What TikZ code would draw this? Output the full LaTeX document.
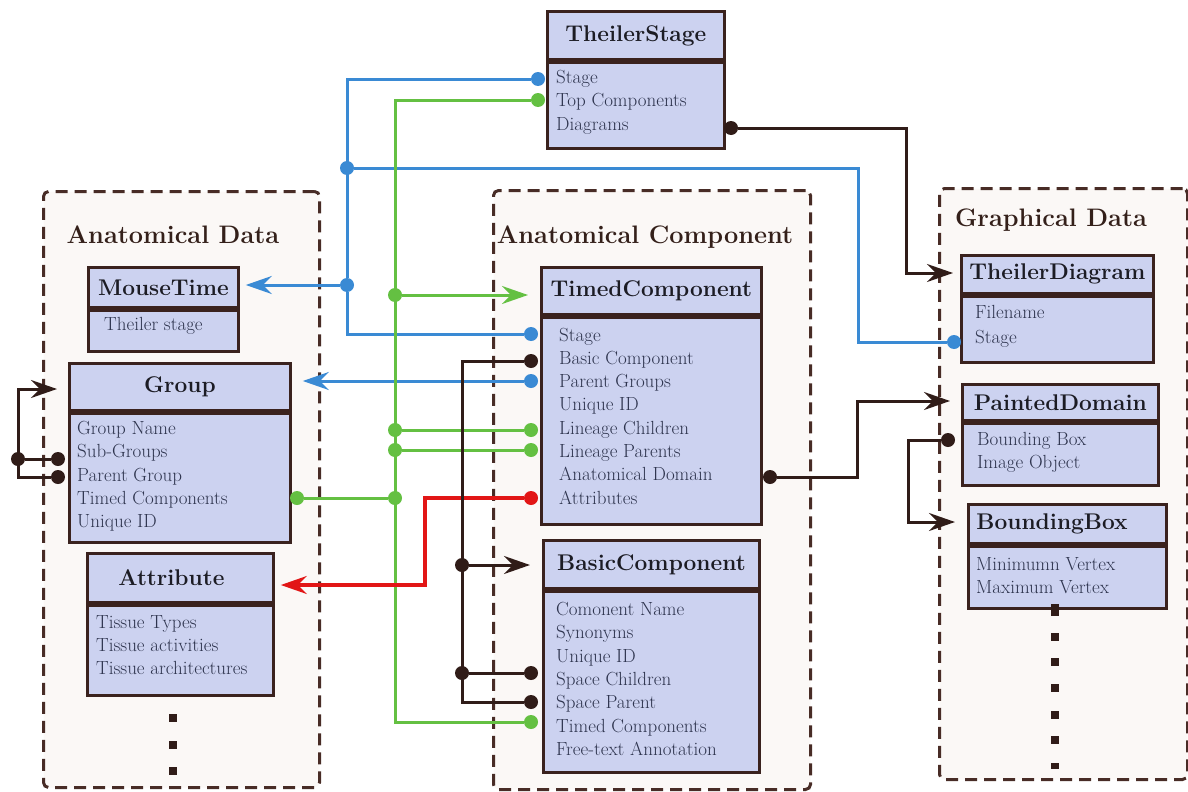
\documentclass[tikz,border=0pt]{standalone}
\usetikzlibrary{arrows.meta}

\definecolor{classfill}{RGB}{204,210,240}
\definecolor{classline}{RGB}{58,34,30}
\definecolor{pkgfill}{RGB}{251,248,246}
\definecolor{pkgline}{RGB}{72,44,38}
\definecolor{titletext}{RGB}{52,32,26}
\definecolor{headtext}{RGB}{28,28,36}
\definecolor{itemtext}{RGB}{46,52,78}
\definecolor{linkblue}{RGB}{58,138,212}
\definecolor{linkgreen}{RGB}{100,192,66}
\definecolor{linkred}{RGB}{226,22,22}
\definecolor{linkdark}{RGB}{48,28,24}

\tikzset{
  pkg/.style={draw=pkgline, fill=pkgfill, line width=3pt, dash pattern=on 12pt off 7pt, rounded corners=5pt, anchor=north west, inner sep=0pt},
  pkgtitle/.style={text=titletext, font=\fontsize{25.3}{29}\selectfont\bfseries},
  classhead/.style={draw=classline, fill=classfill, line width=2.8pt, anchor=north west, inner sep=0pt, text=headtext, font=\fontsize{22.7}{26}\selectfont\bfseries},
  classbody/.style={draw=classline, fill=classfill, line width=2.8pt, anchor=north west, inner sep=0pt},
  items/.style={anchor=west, align=left, inner sep=0pt, text=itemtext, font=\fontsize{19}{23.3}\selectfont},
  pdot/.style={circle, fill=#1, inner sep=0pt, minimum size=14pt},
  blueline/.style={draw=linkblue, line width=3pt},
  greenline/.style={draw=linkgreen, line width=3pt},
  redline/.style={draw=linkred, line width=3.4pt},
  darkline/.style={draw=linkdark, line width=3pt},
  headarrow/.style={-{Stealth[length=26pt,width=18pt,inset=9pt]}},
}

\begin{document}
\begin{tikzpicture}[x=1pt,y=-1pt]
\useasboundingbox (0,0) rectangle (1188,792);

% packages
\node[pkg, minimum width=276pt, minimum height=596pt] (adata) at (42,190) {};
\node[pkg, minimum width=317pt, minimum height=599pt] (acomp) at (492,189) {};
\node[pkg, minimum width=248pt, minimum height=591pt] (gdata) at (938,187) {};
\node[pkgtitle] (adata-title) at (173,235) {Anatomical Data};
\node[pkgtitle] (acomp-title) at (645,237) {Anatomical Component};
\node[pkgtitle] (gdata-title) at (1051,220) {Graphical Data};

% TheilerStage
\node[classhead, minimum width=177pt, minimum height=48pt] (ts-head) at (546,10) {TheilerStage};
\node[classbody, minimum width=177pt, minimum height=86pt] (ts-body) at (ts-head.south west) {};
\node[items] (ts-attr) at (556,102) {Stage\\Top Components\\Diagrams};

% Anatomical Data
\node[classhead, minimum width=150pt, minimum height=40pt] (mt-head) at (87,266) {MouseTime};
\node[classbody, minimum width=150pt, minimum height=41pt] (mt-body) at (mt-head.south west) {};
\node[items] (mt-attr) at (104,326) {Theiler stage};

\node[classhead, minimum width=221pt, minimum height=47pt] (grp-head) at (68,362) {Group};
\node[classbody, minimum width=221pt, minimum height=129pt] (grp-body) at (grp-head.south west) {};
\node[items] (grp-attr) at (77,476.5) {Group Name\\Sub-Groups\\Parent Group\\Timed Components\\Unique ID};

\node[classhead, minimum width=186pt, minimum height=49pt, text width=124pt, align=left] (attr-head) at (86,552) {Attribute};
\node[classbody, minimum width=186pt, minimum height=90pt] (attr-body) at (attr-head.south west) {};
\node[items] (attr-attr) at (96,645) {Tissue Types\\Tissue activities\\Tissue architectures};

\fill[linkdark] (169,714) rectangle (177,722);
\fill[linkdark] (169,741) rectangle (177,749);
\fill[linkdark] (169,767) rectangle (177,775);

% Anatomical Component
\node[classhead, minimum width=220pt, minimum height=47pt] (tc-head) at (540,266) {TimedComponent};
\node[classbody, minimum width=220pt, minimum height=207pt] (tc-body) at (tc-head.south west) {};
\node[items] (tc-attr) at (559,416) {Stage\\Basic Component\\Parent Groups\\Unique ID\\Lineage Children\\Lineage Parents\\Anatomical Domain\\Attributes};

\node[classhead, minimum width=216pt, minimum height=48pt] (bc-head) at (542,539) {BasicComponent};
\node[classbody, minimum width=216pt, minimum height=181pt] (bc-body) at (bc-head.south west) {};
\node[items] (bc-attr) at (556,679) {Comonent Name\\Synonyms\\Unique ID\\Space Children\\Space Parent\\Timed Components\\Free-text Annotation};

% Graphical Data
\node[classhead, minimum width=192pt, minimum height=38pt] (td-head) at (960,254) {TheilerDiagram};
\node[classbody, minimum width=192pt, minimum height=66pt] (td-body) at (td-head.south west) {};
\node[items, font=\fontsize{19}{25}\selectfont] (td-attr) at (975,326.5) {Filename\\Stage};

\node[classhead, minimum width=196pt, minimum height=36pt] (pd-head) at (961,383) {PaintedDomain};
\node[classbody, minimum width=196pt, minimum height=62pt] (pd-body) at (pd-head.south west) {};
\node[items] (pd-attr) at (977,452.5) {Bounding Box\\Image Object};

\node[classhead, minimum width=198pt, minimum height=39pt, text width=182pt, align=left] (bb-head) at (967,503) {BoundingBox};
\node[classbody, minimum width=198pt, minimum height=62pt] (bb-body) at (bb-head.south west) {};
\node[items] (bb-attr) at (976,576) {Minimumn Vertex\\Maximum Vertex};

\fill[linkdark] (1051,604) rectangle (1059,616);
\fill[linkdark] (1051,633) rectangle (1059,641);
\fill[linkdark] (1051,658) rectangle (1059,666);
\fill[linkdark] (1051,684) rectangle (1059,692);
\fill[linkdark] (1051,711) rectangle (1059,719);
\fill[linkdark] (1051,736) rectangle (1059,744);
\fill[linkdark] (1051,763) rectangle (1059,769);

% ports and junctions
\node[pdot=linkblue] (ts-stage-dot) at (538,79) {};
\node[pdot=linkblue] (bj1) at (347,168) {};
\node[pdot=linkblue] (bj2) at (347,285) {};
\node[pdot=linkblue] (tc-stage-dot) at (531,334) {};
\node[pdot=linkblue] (tc-pg-dot) at (531,381) {};
\node[pdot=linkblue] (td-stage-dot) at (954,342) {};
\coordinate (td-stage-bend) at (858,342);

\node[pdot=linkgreen] (ts-top-dot) at (538,100) {};
\node[pdot=linkgreen] (gj1) at (395,295) {};
\node[pdot=linkgreen] (gj2) at (395,430) {};
\node[pdot=linkgreen] (gj3) at (395,450) {};
\node[pdot=linkgreen] (gj4) at (395,498) {};
\node[pdot=linkgreen] (grp-tc-dot) at (297,498) {};
\node[pdot=linkgreen] (tc-lc-dot) at (531,430) {};
\node[pdot=linkgreen] (tc-lp-dot) at (531,450) {};
\node[pdot=linkgreen] (bc-tc-dot) at (531,722) {};

\node[pdot=linkred] (tc-attr-dot) at (531,498) {};
\coordinate (red-bend) at (425,585);

\node[pdot=linkdark] (ts-diag-dot) at (731,128) {};
\node[pdot=linkdark] (tc-bc-dot) at (531,361) {};
\node[pdot=linkdark] (kj1) at (462,565) {};
\node[pdot=linkdark] (kj2) at (462,673) {};
\node[pdot=linkdark] (bc-sc-dot) at (531,673) {};
\node[pdot=linkdark] (bc-sp-dot) at (531,702) {};
\node[pdot=linkdark] (tc-ad-dot) at (770,477) {};
\node[pdot=linkdark] (pd-bb-dot) at (948,440) {};
\node[pdot=linkdark] (grp-sg-dot) at (58,459) {};
\node[pdot=linkdark] (grp-pg-dot) at (58,477) {};
\node[pdot=linkdark] (gself) at (18,459) {};
\coordinate (td-bend) at (906,273);
\coordinate (pd-bend) at (857,401);
\coordinate (bb-bend) at (908,522);
\coordinate (grp-bend) at (18,389);

% blue links
\draw[blueline] (ts-stage-dot) -| (bj2) |- (tc-stage-dot);
\draw[blueline] (bj1) -| (td-stage-bend) -- (td-stage-dot);
\draw[blueline,headarrow,shorten >=6pt] (bj2) -- (bj2 -| mt-head.east);
\draw[blueline,headarrow,shorten >=11pt] (tc-pg-dot) -- (tc-pg-dot -| grp-head.east);

% green links
\draw[greenline] (ts-top-dot) -| (bc-tc-dot -| gj1) -- (bc-tc-dot);
\draw[greenline,headarrow,shorten >=12pt] (gj1) -- (gj1 -| tc-head.west);
\draw[greenline] (gj2) -- (tc-lc-dot);
\draw[greenline] (gj3) -- (tc-lp-dot);
\draw[greenline] (grp-tc-dot) -- (gj4);

% red link
\draw[redline,headarrow,shorten >=6pt] (tc-attr-dot) -| (red-bend) -- (red-bend -| attr-head.east);

% dark links
\draw[darkline] (tc-bc-dot) -| (bc-sp-dot -| kj1) -- (bc-sp-dot);
\draw[darkline,headarrow,shorten >=12pt] (kj1) -- (kj1 -| bc-head.west);
\draw[darkline] (kj2) -- (bc-sc-dot);
\draw[darkline,headarrow,shorten >=7pt] (ts-diag-dot) -| (td-bend) -- (td-bend -| td-head.west);
\draw[darkline,headarrow,shorten >=11pt] (tc-ad-dot) -| (pd-bend) -- (pd-bend -| pd-head.west);
\draw[darkline,headarrow,shorten >=12pt] (pd-bb-dot) -| (bb-bend) -- (bb-bend -| bb-head.west);
\draw[darkline] (grp-sg-dot) -- (gself);
\draw[darkline,headarrow,shorten >=11pt] (grp-pg-dot) -| (grp-bend) -- (grp-bend -| grp-head.west);

\end{tikzpicture}
\end{document}
